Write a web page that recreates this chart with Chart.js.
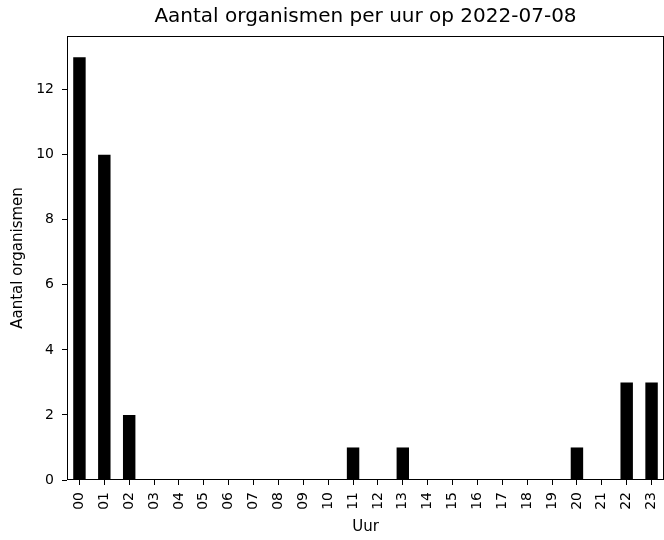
<!DOCTYPE html>
<html>
<head>
<meta charset="utf-8">
<script src="https://cdn.jsdelivr.net/npm/chart.js@4"></script>
<style>
  html, body { margin: 0; padding: 0; background: #fff; }
  canvas { display: block; }
</style>
</head>
<body>
<canvas id="chart" width="664" height="540"></canvas>
<script>
const hours = ['00', '01', '02', '03', '04', '05', '06', '07', '08', '09', '10', '11',
    '12', '13', '14', '15', '16', '17', '18', '19', '20', '21', '22', '23'];
const counts = [13, 10, 2, 0, 0, 0, 0, 0, 0, 0, 0, 1, 0, 1, 0, 0, 0, 0, 0, 0, 1, 0, 3, 3];
const yTicks = [0, 2, 4, 6, 8, 10, 12];
const yMax = 13.65;

Chart.defaults.font.family = 'DejaVu Sans';
Chart.defaults.color = '#000';

// matplotlib-like frame around the plot area
const frame = {
    id: 'frame',
    afterDraw(chart) {
        const { ctx, chartArea: a } = chart;
        ctx.save();
        ctx.strokeStyle = '#000';
        ctx.lineWidth = 1;
        ctx.strokeRect(a.left + 0.5, a.top + 0.5, a.right - a.left - 1, a.bottom - a.top - 1);
        ctx.restore();
    }
};

new Chart(document.getElementById('chart'), {
    type: 'bar',
    data: {
        labels: hours,
        datasets: [{
            data: counts,
            backgroundColor: '#000',
            borderWidth: 0,
            barPercentage: 0.5,
            categoryPercentage: 1
        }]
    },
    options: {
        responsive: false,
        animation: false,
        layout: { padding: 0 },
        plugins: {
            legend: { display: false },
            tooltip: { enabled: false },
            title: {
                display: true,
                fullSize: false, // centre over the plot area, like matplotlib
                text: 'Aantal organismen per uur op 2022-07-08',
                font: { size: 20, weight: 'normal' },
                padding: { top: 5, bottom: 7 }
            }
        },
        scales: {
            x: {
                offset: true,
                grid: { drawOnChartArea: false, offset: false, tickLength: 5, color: '#000' },
                border: { display: false },
                ticks: { minRotation: 90, maxRotation: 90, padding: 7, font: { size: 14 }, autoSkip: false },
                title: { display: true, text: 'Uur', font: { size: 15 }, padding: { top: 0, bottom: 4 } },
                afterFit(scale) {
                    scale.height = 60;
                    scale.paddingLeft = 0;
                    scale.paddingRight = 0;
                }
            },
            y: {
                min: 0,
                max: yMax,
                grid: { drawOnChartArea: false, tickLength: 5, color: '#000' },
                border: { display: false },
                ticks: { padding: 8, font: { size: 14 } },
                afterBuildTicks(scale) {
                    scale.ticks = yTicks.map(v => ({ value: v }));
                },
                title: { display: true, text: 'Aantal organismen', font: { size: 15 }, padding: { top: 9, bottom: 0 } },
                afterFit(scale) {
                    scale.width = 67;
                    scale.paddingTop = 0;
                    scale.paddingBottom = 0;
                }
            }
        }
    },
    plugins: [frame]
});
</script>
</body>
</html>
